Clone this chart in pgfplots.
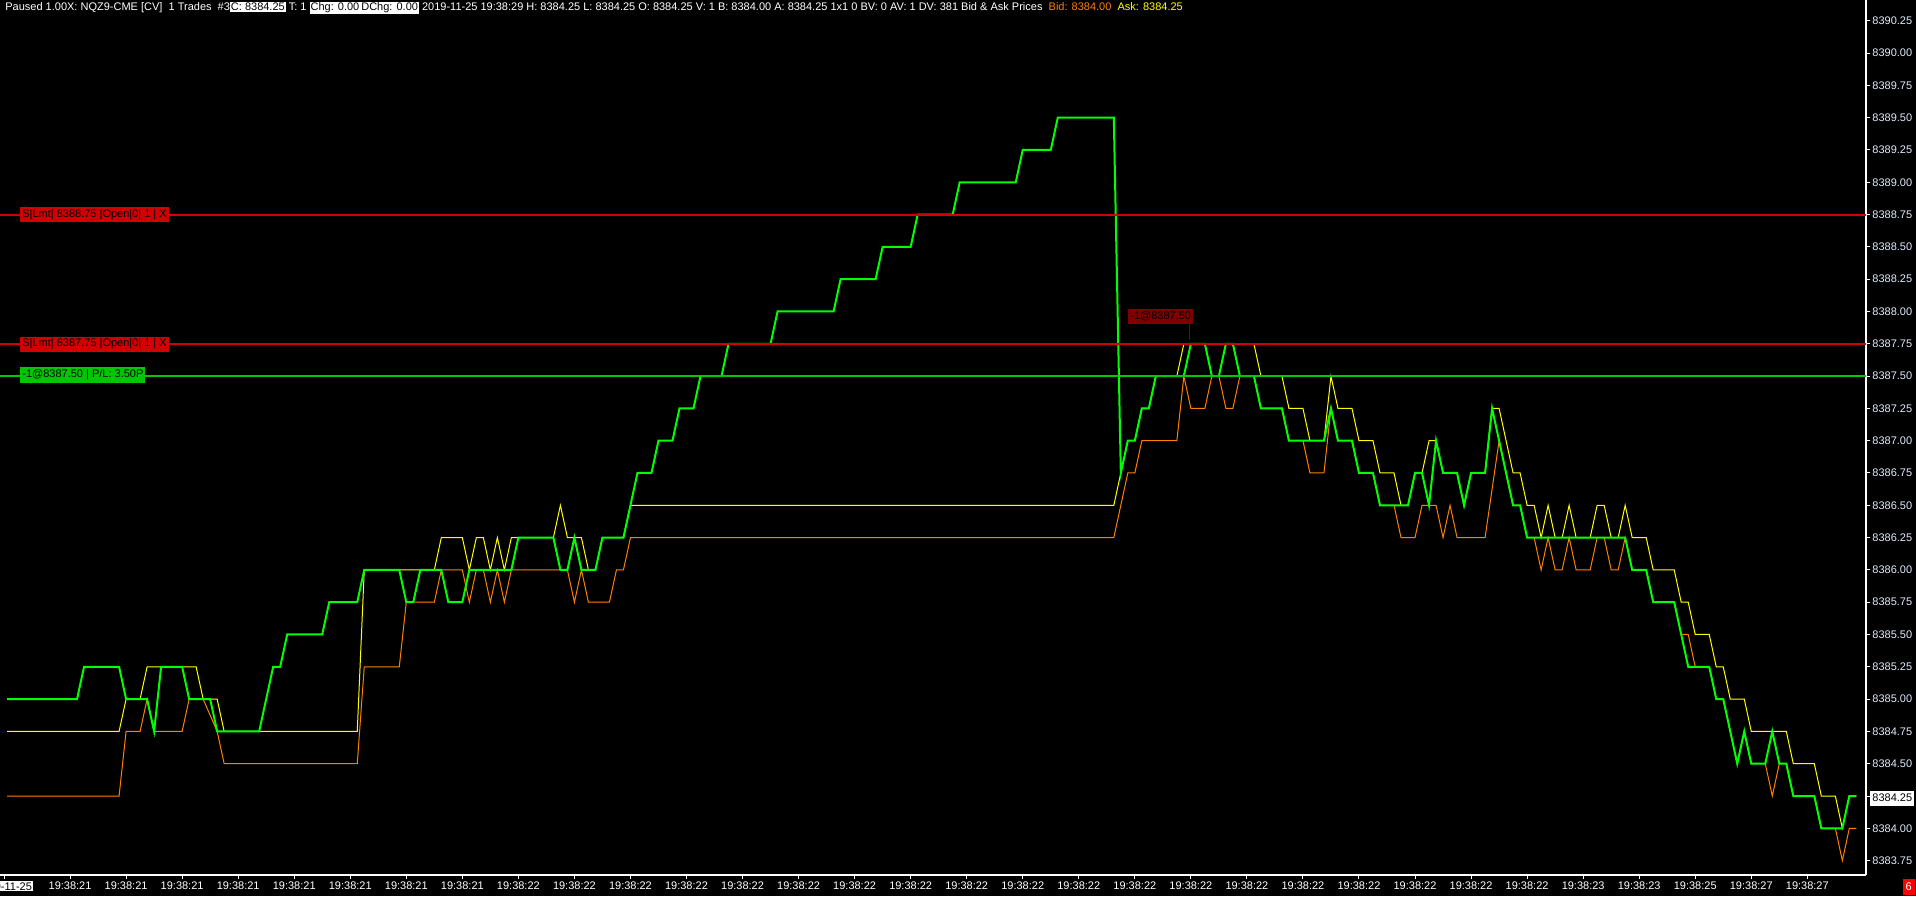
\documentclass[border=0pt]{standalone}
\usepackage{pgfplots}
\pgfplotsset{compat=1.18}
\usepackage{fontspec}
\setmainfont{Liberation Sans}

\definecolor{lastc}{RGB}{0,255,0}
\definecolor{askc}{RGB}{255,255,0}
\definecolor{bidc}{RGB}{255,128,0}
\definecolor{ordred}{RGB}{210,0,0}
\definecolor{posgreen}{RGB}{0,200,0}
\definecolor{fillred}{RGB}{128,0,0}
\definecolor{scalec}{RGB}{225,235,255}
\newcommand\ui{\fontsize{5.5}{6.5}\selectfont}
\newcommand\hl[1]{{\setlength\fboxsep{0.5pt}\colorbox{white}{\textcolor{black}{#1}}}}

\begin{document}
\begin{tikzpicture}[x=0.5pt,y=0.5pt]
\useasboundingbox (0,0) rectangle (1916,896);
\fill[black] (0,0) rectangle (1916,896);
\begin{axis}[
    at={(0pt,10.5pt)}, anchor=south west,
    scale only axis, width=933pt, height=437.5pt,
    xmin=0, xmax=266.38, ymin=8383.6385, ymax=8390.411,
    axis x line*=bottom, axis y line*=right,
    axis line style={white, line width=0.6pt},
    tick style={white, line width=0.5pt},
    tick align=outside, major tick length=2pt,
    clip=false,
    scaled y ticks=false,
    xtick={0.6,10,18,...,258},
    xticklabels={{\hl{2019-11-25}},
        19:38:21,19:38:21,19:38:21,19:38:21,19:38:21,19:38:21,19:38:21,19:38:21,
        19:38:22,19:38:22,19:38:22,19:38:22,19:38:22,19:38:22,19:38:22,19:38:22,
        19:38:22,19:38:22,19:38:22,19:38:22,19:38:22,19:38:22,19:38:22,19:38:22,
        19:38:22,19:38:22,19:38:22,
        19:38:23,19:38:23,19:38:25,19:38:27,19:38:27},
    ytick={8383.75,8384,8384.25,8384.5,8384.75,8385,8385.25,8385.5,8385.75,
        8386,8386.25,8386.5,8386.75,8387,8387.25,8387.5,8387.75,8388,8388.25,
        8388.5,8388.75,8389,8389.25,8389.5,8389.75,8390,8390.25},
    xticklabel style={text=white, font=\ui, inner sep=1pt},
    yticklabel style={text=scalec, font=\ui, inner sep=1pt,
        /pgf/number format/.cd, fixed, fixed zerofill, precision=2,
        1000 sep={}, assume math mode=true},
]
% bid
\addplot[bidc, line width=0.5pt] coordinates {
(1,8384.25) (17,8384.25) (18,8384.75) (20,8384.75) (21,8385.00) (22,8384.75)
(26,8384.75) (27,8385.00) (29,8385.00) (31,8384.75) (32,8384.50) (51,8384.50)
(52,8385.25) (57,8385.25) (58,8385.75) (62,8385.75) (63,8386.00) (66,8386.00)
(67,8385.75) (68,8386.00) (69,8386.00) (70,8385.75) (71,8386.00) (72,8385.75)
(73,8386.00) (81,8386.00) (82,8385.75) (83,8386.00) (84,8385.75) (87,8385.75)
(88,8386.00) (89,8386.00) (90,8386.25) (159,8386.25) (160,8386.50) (161,8386.75)
(162,8386.75) (163,8387.00) (168,8387.00) (169,8387.50) (170,8387.25) (172,8387.25)
(173,8387.50) (174,8387.50) (175,8387.25) (176,8387.25) (177,8387.50) (179,8387.50)
(180,8387.25) (183,8387.25) (184,8387.00) (186,8387.00) (187,8386.75) (189,8386.75)
(190,8387.25) (191,8387.00) (193,8387.00) (194,8386.75) (196,8386.75) (197,8386.50)
(199,8386.50) (200,8386.25) (202,8386.25) (203,8386.50) (205,8386.50) (206,8386.25)
(207,8386.50) (208,8386.25) (212,8386.25) (214,8387.00) (216,8386.50) (217,8386.50)
(218,8386.25) (219,8386.25) (220,8386.00) (221,8386.25) (222,8386.00) (223,8386.00)
(224,8386.25) (225,8386.00) (227,8386.00) (228,8386.25) (229,8386.25) (230,8386.00)
(231,8386.00) (232,8386.25) (233,8386.00) (235,8386.00) (236,8385.75) (239,8385.75)
(240,8385.50) (241,8385.50) (242,8385.25) (244,8385.25) (245,8385.00) (246,8385.00)
(247,8384.75) (248,8384.50) (249,8384.75) (250,8384.50) (252,8384.50) (253,8384.25)
(254,8384.50) (255,8384.50) (256,8384.25) (259,8384.25) (260,8384.00) (262,8384.00)
(263,8383.75) (264,8384.00) (265,8384.00)
};
% ask
\addplot[askc, line width=0.5pt] coordinates {
(1,8384.75) (17,8384.75) (18,8385.00) (20,8385.00) (21,8385.25) (28,8385.25)
(29,8385.00) (31,8385.00) (32,8384.75) (51,8384.75) (52,8386.00) (62,8386.00)
(63,8386.25) (66,8386.25) (67,8386.00) (68,8386.25) (69,8386.25) (70,8386.00)
(71,8386.25) (72,8386.00) (73,8386.25) (79,8386.25) (80,8386.50) (81,8386.25)
(83,8386.25) (84,8386.00) (85,8386.00) (86,8386.25) (89,8386.25) (90,8386.50)
(159,8386.50) (160,8386.75) (161,8387.00) (162,8387.00) (163,8387.25) (164,8387.25)
(165,8387.50) (168,8387.50) (169,8387.75) (179,8387.75) (180,8387.50) (183,8387.50)
(184,8387.25) (186,8387.25) (187,8387.00) (189,8387.00) (190,8387.50) (191,8387.25)
(193,8387.25) (194,8387.00) (196,8387.00) (197,8386.75) (199,8386.75) (200,8386.50)
(201,8386.50) (202,8386.75) (203,8386.75) (204,8387.00) (205,8387.00) (206,8386.75)
(208,8386.75) (209,8386.50) (210,8386.75) (212,8386.75) (213,8387.25) (214,8387.25)
(215,8387.00) (216,8386.75) (217,8386.75) (218,8386.50) (219,8386.50) (220,8386.25)
(221,8386.50) (222,8386.25) (223,8386.25) (224,8386.50) (225,8386.25) (227,8386.25)
(228,8386.50) (229,8386.50) (230,8386.25) (231,8386.25) (232,8386.50) (233,8386.25)
(235,8386.25) (236,8386.00) (239,8386.00) (240,8385.75) (241,8385.75) (242,8385.50)
(244,8385.50) (245,8385.25) (246,8385.25) (247,8385.00) (249,8385.00) (250,8384.75)
(255,8384.75) (256,8384.50) (259,8384.50) (260,8384.25) (262,8384.25) (263,8384.00)
(264,8384.25) (265,8384.25)
};
% last trade
\addplot[lastc, line width=1pt] coordinates {
(1,8385.00) (11,8385.00) (12,8385.25) (17,8385.25) (18,8385.00) (21,8385.00)
(22,8384.75) (23,8385.25) (26,8385.25) (27,8385.00) (30,8385.00) (31,8384.75)
(37,8384.75) (38,8385.00) (39,8385.25) (40,8385.25) (41,8385.50) (46,8385.50)
(47,8385.75) (51,8385.75) (52,8386.00) (57,8386.00) (58,8385.75) (59,8385.75)
(60,8386.00) (63,8386.00) (64,8385.75) (66,8385.75) (67,8386.00) (73,8386.00)
(74,8386.25) (79,8386.25) (80,8386.00) (81,8386.00) (82,8386.25) (83,8386.00)
(85,8386.00) (86,8386.25) (89,8386.25) (90,8386.50) (91,8386.75) (93,8386.75)
(94,8387.00) (96,8387.00) (97,8387.25) (99,8387.25) (100,8387.50) (103,8387.50)
(104,8387.75) (110,8387.75) (111,8388.00) (119,8388.00) (120,8388.25) (125,8388.25)
(126,8388.50) (130,8388.50) (131,8388.75) (136,8388.75) (137,8389.00) (145,8389.00)
(146,8389.25) (150,8389.25) (151,8389.50) (159,8389.50) (160,8386.75) (161,8387.00)
(162,8387.00) (163,8387.25) (164,8387.25) (165,8387.50) (169,8387.50) (170,8387.75)
(172,8387.75) (173,8387.50) (174,8387.50) (175,8387.75) (176,8387.75) (177,8387.50)
(179,8387.50) (180,8387.25) (183,8387.25) (184,8387.00) (189,8387.00) (190,8387.25)
(191,8387.00) (193,8387.00) (194,8386.75) (196,8386.75) (197,8386.50) (201,8386.50)
(202,8386.75) (203,8386.75) (204,8386.50) (205,8387.00) (206,8386.75) (208,8386.75)
(209,8386.50) (210,8386.75) (212,8386.75) (213,8387.25) (214,8387.00) (215,8386.75)
(216,8386.50) (217,8386.50) (218,8386.25) (232,8386.25) (233,8386.00) (235,8386.00)
(236,8385.75) (239,8385.75) (240,8385.50) (241,8385.25) (244,8385.25) (245,8385.00)
(246,8385.00) (247,8384.75) (248,8384.50) (249,8384.75) (250,8384.50) (252,8384.50)
(253,8384.75) (254,8384.50) (255,8384.50) (256,8384.25) (259,8384.25) (260,8384.00)
(263,8384.00) (264,8384.25) (265,8384.25)
};
% order and position lines
\addplot[ordred, line width=1pt] coordinates {(0,8388.75) (266.38,8388.75)};
\addplot[ordred, line width=1pt] coordinates {(0,8387.75) (266.38,8387.75)};
\addplot[posgreen, line width=1pt] coordinates {(0,8387.50) (266.38,8387.50)};
\end{axis}

% header line
\node[anchor=west, text=white, inner sep=0pt, font=\ui] at (5,888)
  {Paused 1.00X: NQZ9-CME [CV]\ \ 1 Trades\ \ \#3\hl{C: 8384.25} T: 1 \hl{Chg: 0.00}\hl{DChg: 0.00} 2019-11-25 19:38:29 H: 8384.25 L: 8384.25 O: 8384.25 V: 1 B: 8384.00 A: 8384.25 1x1 0 BV: 0 AV: 1 DV: 381 Bid \& Ask Prices\ \ \textcolor{bidc}{Bid: 8384.00}\ \ \textcolor{askc}{Ask: 8384.25}};

% order labels
\node[anchor=west, fill=ordred, text=black, inner xsep=1pt, inner ysep=0pt,
  minimum height=7.5pt, font=\ui] at (20,681) {S|Lmt| 8388.75 |Open|0| 1 | X};
\node[anchor=west, fill=ordred, text=black, inner xsep=1pt, inner ysep=0pt,
  minimum height=7.5pt, font=\ui] at (20,552) {S|Lmt| 8387.75 |Open|0| 1 | X};
\node[anchor=west, fill=posgreen, text=black, inner xsep=1pt, inner ysep=0pt,
  minimum height=8pt, font=\ui] at (20,521) {-1@8387.50 | P/L: 3.50P};
\draw[fillred, line width=0.5pt] (1189,572) -- (1189,556);
\node[anchor=west, fill=fillred, text=black, inner xsep=1pt, inner ysep=0pt,
  minimum height=7.5pt, font=\ui] at (1128,580) {-1@8387.50};

% current price and status marks
\node[anchor=west, fill=white, text=black, inner xsep=1pt, inner ysep=0pt,
  minimum height=7.5pt, font=\ui] at (1870,98) {8384.25};
\node[anchor=south east, fill=red, text=white, inner xsep=1.5pt, inner ysep=0pt,
  minimum height=8pt, font=\ui] at (1915,1) {6};
\end{tikzpicture}
\end{document}
